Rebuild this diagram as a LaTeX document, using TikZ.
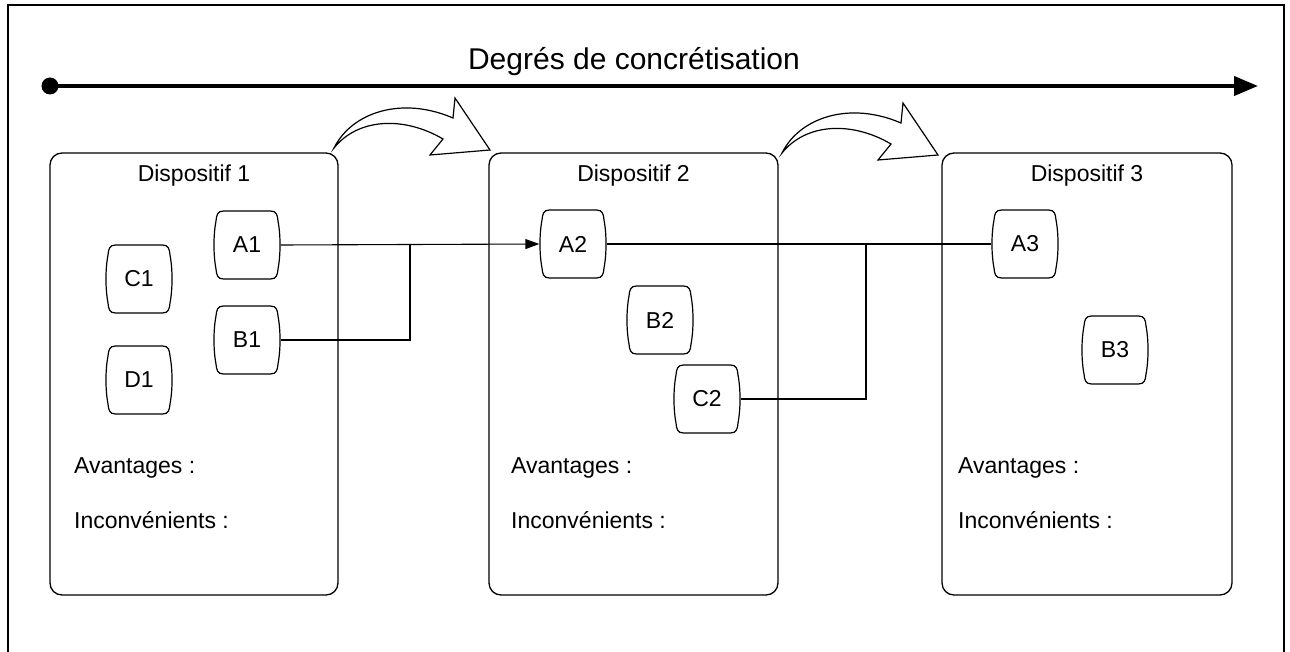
\documentclass[tikz,border=0pt]{standalone}
\usepackage{fontspec}
\setmainfont{Liberation Sans}
\usetikzlibrary{arrows.meta,calc}
\tikzset{
  frame/.style={line width=1.8pt},
  bigbox/.style={draw, line width=1.3pt, rounded corners=12pt},
  tapenode/.style={minimum width=67pt, minimum height=68pt, inner sep=0pt, font=\fontsize{23}{26}\selectfont},
  tapeshape/.style={draw, line width=1.2pt},
  conn/.style={line width=1.1pt},
  boxtitle/.style={anchor=base, font=\fontsize{23}{26}\selectfont, inner sep=0pt},
  boxtext/.style={anchor=base west, font=\fontsize{23}{26}\selectfont, inner sep=0pt},
  blockarrow/.style={draw, fill=white, line width=1.2pt, line join=miter},
}
\newcommand{\tapeat}[4]{%
  \node[tapenode] (#1) at (#2,#3) {#4};
  \draw[tapeshape, shift={(#1.center)}]
    (-23.5,-34) -- (23.5,-34) .. controls (29.5,-34) and (30.5,-30) .. (31,-24)
    .. controls (33.7,-10) and (33.7,10) .. (31,24)
    .. controls (30.5,30) and (29.5,34) .. (23.5,34) -- (-23.5,34)
    .. controls (-29.5,34) and (-30.5,30) .. (-31,24)
    .. controls (-33.7,10) and (-33.7,-10) .. (-31,-24)
    .. controls (-30.5,-30) and (-29.5,-34) .. (-23.5,-34) -- cycle;
}
\newcommand{\bendarrow}[2]{%
  \draw[blockarrow, shift={(#1,#2)}]
    (0,0) .. controls (18,-36) and (68,-52) .. (119,-30) -- (121,-50) -- (156,2)
    -- (96,7) -- (109,-9) .. controls (70,-32) and (24,-30) .. (0,0) -- cycle;
}
\begin{document}
\begin{tikzpicture}[x=1pt,y=-1pt]
\useasboundingbox (0,0) rectangle (1290,652);
\draw[frame] (8,5) rectangle (1284,670);

% title axis
\node[anchor=base, font=\fontsize{30}{34}\selectfont, inner sep=0pt] (title) at (634,70) {Degrés de concrétisation};
\fill (50,86) circle (8.5);
\coordinate (axs) at (50,86);
\coordinate (axe) at (1258,86);
\draw[line width=4pt, -{Triangle[length=24pt,width=19pt]}] (axs) -- (axe);

% big boxes
\draw[bigbox] (50,153) rectangle (338,595);
\draw[bigbox] (489,153) rectangle (778,595);
\draw[bigbox] (942,153) rectangle (1232,595);

\node[boxtitle] (t1) at (194,182) {Dispositif 1};
\node[boxtitle] (t2) at (633.5,182) {Dispositif 2};
\node[boxtitle] (t3) at (1087,182) {Dispositif 3};

\node[boxtext] (av1) at (74,473) {Avantages :};
\node[boxtext] (in1) at (74,528) {Inconvénients :};
\node[boxtext] (av2) at (511,473) {Avantages :};
\node[boxtext] (in2) at (511,528) {Inconvénients :};
\node[boxtext] (av3) at (958,473) {Avantages :};
\node[boxtext] (in3) at (958,528) {Inconvénients :};

% bent block arrows
\bendarrow{334}{148}
\bendarrow{782}{153}

% small nodes
\tapeat{A1}{247}{245}{A1}
\tapeat{B1}{247}{340}{B1}
\tapeat{C1}{139}{279}{C1}
\tapeat{D1}{139}{380}{D1}
\tapeat{A2}{573}{244}{A2}
\tapeat{B2}{660}{320}{B2}
\tapeat{C2}{707}{399}{C2}
\tapeat{A3}{1025}{244}{A3}
\tapeat{B3}{1115}{350}{B3}

% connectors
\coordinate (j1) at (410,245);
\coordinate (j2) at (866,244);
\draw[conn, -{Triangle[length=14pt,width=10pt]}] (A1.east) -- (A2.west);
\draw[conn] (B1.east) -| (j1);
\draw[conn] (A2.east) -- (A3.west);
\draw[conn] (C2.east) -| (j2);
\end{tikzpicture}
\end{document}
